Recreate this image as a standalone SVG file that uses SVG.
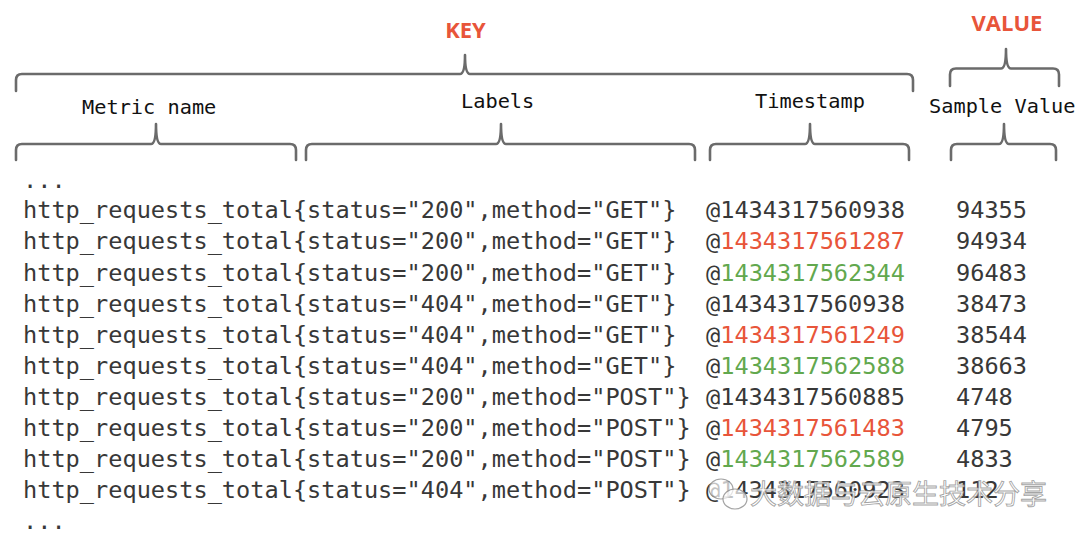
<svg xmlns="http://www.w3.org/2000/svg" width="1080" height="541" viewBox="0 0 1080 541">
<style>
.bg{fill:#ffffff}
.brace{fill:none;stroke:#6b6b6b;stroke-width:2.6;stroke-linejoin:round;stroke-linecap:round}
.title{font-family:"Open Sans","Liberation Sans",sans-serif;font-weight:700;font-size:22px;fill:#e8553a;text-anchor:start}
.lbl{font-family:"DejaVu Sans Mono","Liberation Mono",monospace;font-size:20.3px;fill:#111111}
.row{font-family:"DejaVu Sans Mono","Liberation Mono",monospace;font-size:23.6px;fill:#383838}
.red{fill:#e8553a}
.green{fill:#62a84e}
.wm{font-family:"Noto Sans CJK SC","Noto Sans",sans-serif;font-size:27px;fill:#ffffff;fill-opacity:0.75;stroke:#8c8c8c;stroke-width:0.9;stroke-opacity:0.8}
.wmicon{fill:#ffffff;fill-opacity:0.7;stroke:#8c8c8c;stroke-width:1.2;stroke-opacity:0.8}
</style>
<rect class="bg" x="0" y="0" width="1080" height="541"/>

<g id="connectors">
  <path id="brace-key" class="brace" d="M16 91 V80 Q16 74 22 74 H460 Q465 74 465 55 Q465 74 470 74 H907 Q913 74 913 80 V91"/>
  <path id="brace-value" class="brace" d="M950 86 V74.5 Q950 68.5 956 68.5 H1001 Q1006 68.5 1006 49 Q1006 68.5 1011 68.5 H1053 Q1059 68.5 1059 74.5 V86"/>
  <path id="brace-metric" class="brace" d="M16 160 V150 Q16 144 22 144 H151 Q156 144 156 124 Q156 144 161 144 H290 Q296 144 296 150 V160"/>
  <path id="brace-labels" class="brace" d="M306 160 V150 Q306 144 312 144 H496 Q501 144 501 124 Q501 144 506 144 H689 Q695 144 695 150 V160"/>
  <path id="brace-timestamp" class="brace" d="M710 160 V150 Q710 144 716 144 H805 Q810 144 810 124 Q810 144 815 144 H903 Q909 144 909 150 V160"/>
  <path id="brace-sample" class="brace" d="M951 160 V150 Q951 144 957 144 H999 Q1004 144 1004 124 Q1004 144 1009 144 H1050 Q1056 144 1056 150 V160"/>
</g>

<g id="key">
  <text class="title" x="465.5" y="38.3" text-anchor="middle" style="text-anchor:middle">KEY</text>
</g>
<g id="value">
  <text class="title" x="1007" y="31" style="text-anchor:middle">VALUE</text>
</g>
<g id="metric-name">
  <text class="lbl" x="82" y="114">Metric name</text>
</g>
<g id="labels">
  <text class="lbl" x="461" y="108">Labels</text>
</g>
<g id="timestamp">
  <text class="lbl" x="755" y="108">Timestamp</text>
</g>
<g id="sample-value">
  <text class="lbl" x="929" y="113">Sample Value</text>
</g>

<g id="samples">
  <text class="row" x="23" y="188">...</text>
  <text class="row" x="23" y="218.3">http_requests_total{status="200",method="GET"}</text>
  <text class="row" x="23" y="249.4">http_requests_total{status="200",method="GET"}</text>
  <text class="row" x="23" y="280.5">http_requests_total{status="200",method="GET"}</text>
  <text class="row" x="23" y="311.6">http_requests_total{status="404",method="GET"}</text>
  <text class="row" x="23" y="342.7">http_requests_total{status="404",method="GET"}</text>
  <text class="row" x="23" y="373.8">http_requests_total{status="404",method="GET"}</text>
  <text class="row" x="23" y="404.9">http_requests_total{status="200",method="POST"}</text>
  <text class="row" x="23" y="436">http_requests_total{status="200",method="POST"}</text>
  <text class="row" x="23" y="467.1">http_requests_total{status="200",method="POST"}</text>
  <text class="row" x="23" y="498.2">http_requests_total{status="404",method="POST"}</text>
  <text class="row" x="23" y="529.3">...</text>

  <text class="row" x="706" y="218.3">@1434317560938</text>
  <text class="row" x="706" y="249.4">@<tspan class="red">1434317561287</tspan></text>
  <text class="row" x="706" y="280.5">@<tspan class="green">1434317562344</tspan></text>
  <text class="row" x="706" y="311.6">@1434317560938</text>
  <text class="row" x="706" y="342.7">@<tspan class="red">1434317561249</tspan></text>
  <text class="row" x="706" y="373.8">@<tspan class="green">1434317562588</tspan></text>
  <text class="row" x="706" y="404.9">@1434317560885</text>
  <text class="row" x="706" y="436">@<tspan class="red">1434317561483</tspan></text>
  <text class="row" x="706" y="467.1">@<tspan class="green">1434317562589</tspan></text>
  <text class="row" x="706" y="498.2">@1434317560923</text>

  <text class="row" x="956" y="218.3">94355</text>
  <text class="row" x="956" y="249.4">94934</text>
  <text class="row" x="956" y="280.5">96483</text>
  <text class="row" x="956" y="311.6">38473</text>
  <text class="row" x="956" y="342.7">38544</text>
  <text class="row" x="956" y="373.8">38663</text>
  <text class="row" x="956" y="404.9">4748</text>
  <text class="row" x="956" y="436">4795</text>
  <text class="row" x="956" y="467.1">4833</text>
  <text class="row" x="956" y="498.2">112</text>
</g>

<g id="watermark">
  <ellipse class="wmicon" cx="721" cy="489" rx="12" ry="10"/>
  <ellipse class="wmicon" cx="735" cy="499" rx="12" ry="10"/>
  <text class="wm" x="750" y="504">大数据与云原生技术分享</text>
</g>
</svg>
